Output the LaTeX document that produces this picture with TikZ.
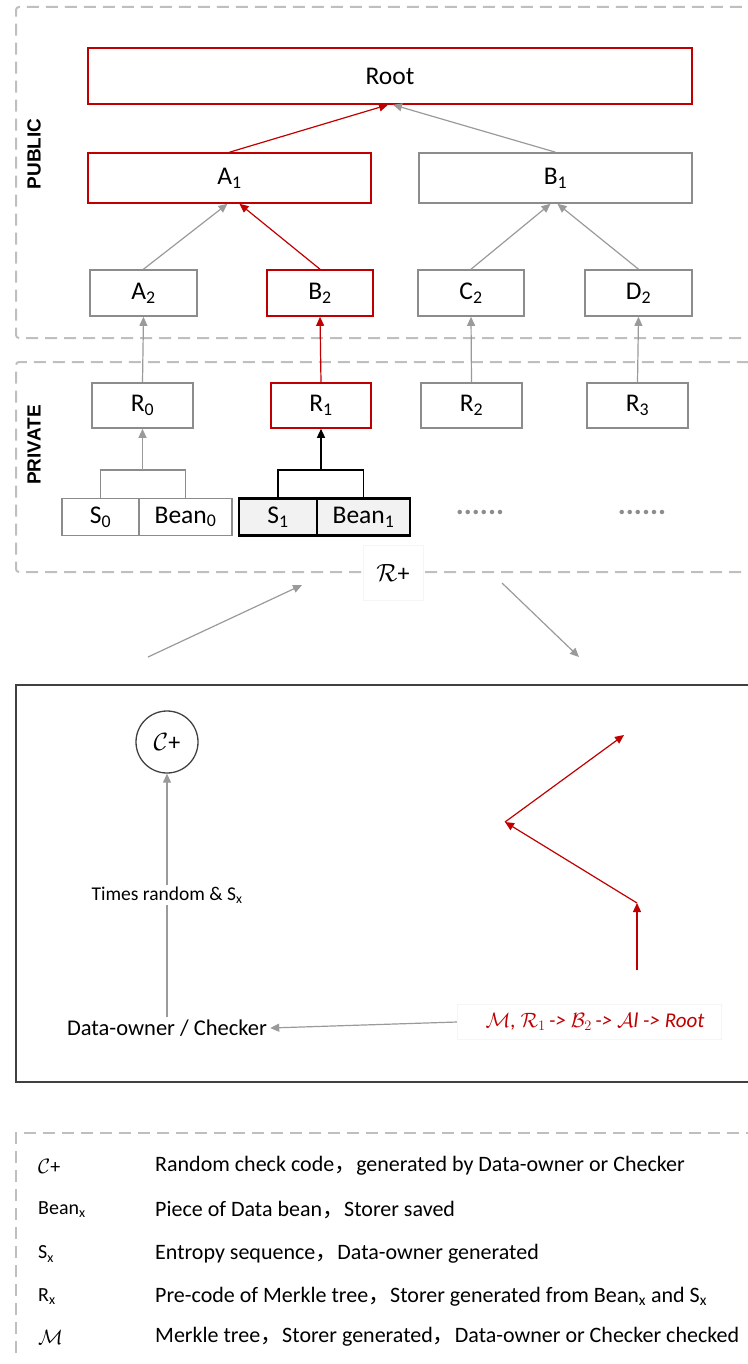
\documentclass[tikz,border=0pt]{standalone}
\usepackage{fontspec}
\setmainfont{Carlito}
\newfontfamily\lab{Liberation Sans}
\newfontfamily\cjk{Noto Sans CJK SC}
\usetikzlibrary{arrows.meta,calc}
\definecolor{tred}{HTML}{C00000}
\definecolor{tgray}{HTML}{8C8C8C}
\definecolor{agray}{HTML}{9A9A9A}
\definecolor{dgray}{HTML}{BFBFBF}
\definecolor{fgray}{HTML}{F2F2F2}
\definecolor{kgray}{HTML}{404040}
\begin{document}
\begin{tikzpicture}[x=1pt,y=-1pt,
  box/.style={draw=tgray,line width=1.6pt,inner sep=0pt,font=\fontsize{25.5}{28}\selectfont},
  redbox/.style={draw=tred},
  blkbox/.style={draw=black,line width=2.2pt,fill=fgray},
  garr/.style={draw=agray,line width=1.2pt,-{Triangle[length=9pt,width=8pt]}},
  rarr/.style={draw=tred,line width=1.2pt,-{Triangle[length=9pt,width=8pt]}},
  karr/.style={draw=black,line width=1.4pt,-{Triangle[length=9pt,width=8pt]}},
  frame/.style={draw=dgray,line width=2pt,dash pattern=on 12pt off 7pt},
  sidelab/.style={rotate=90,font=\lab\bfseries\fontsize{19}{22}\selectfont},
  legsym/.style={anchor=west,inner sep=0pt,font=\fontsize{20}{23}\selectfont},
  legtxt/.style={anchor=west,inner sep=0pt,font=\fontsize{22}{25}\selectfont},
  dots/.style={text=tgray,font=\bfseries\fontsize{30}{32}\selectfont}
]
\useasboundingbox (0,0) rectangle (747,1364);

% frames
\draw[frame,rounded corners=3pt] (760,338) -- (16,338) -- (16,7) -- (760,7);
\draw[frame,rounded corners=3pt] (760,572) -- (16,572) -- (16,362) -- (760,362);
\draw[kgray,line width=1.5pt] (760,1082) -- (16,1082) -- (16,685) -- (760,685);
\draw[frame] (16,1353) -- (16,1133) -- (760,1133);

\node[sidelab] (pub) at (34,154) {PUBLIC};
\node[sidelab] (priv) at (34,445) {PRIVATE};

% tree
\node[box,redbox,minimum width=604,minimum height=56] (root) at (390,76) {Root};
\node[box,redbox,minimum width=283,minimum height=50] (a1) at (229.5,178) {A\textsubscript{1}};
\node[box,minimum width=273,minimum height=50] (b1) at (555.5,178) {B\textsubscript{1}};
\node[box,minimum width=107,minimum height=46] (a2) at (143.5,293) {A\textsubscript{2}};
\node[box,redbox,minimum width=106,minimum height=46] (b2) at (320,293) {B\textsubscript{2}};
\node[box,minimum width=106,minimum height=46] (c2) at (471,293) {C\textsubscript{2}};
\node[box,minimum width=107,minimum height=46] (d2) at (638.5,293) {D\textsubscript{2}};
\node[box,minimum width=101,minimum height=45] (r0) at (142.5,405.5) {R\textsubscript{0}};
\node[box,redbox,minimum width=100,minimum height=45] (r1) at (321,405.5) {R\textsubscript{1}};
\node[box,minimum width=101,minimum height=45] (r2) at (471.5,405.5) {R\textsubscript{2}};
\node[box,minimum width=101,minimum height=45] (r3) at (637.5,405.5) {R\textsubscript{3}};

\node[box,minimum width=77,minimum height=37] (s0) at (100.5,517) {S\textsubscript{0}};
\node[box,minimum width=93,minimum height=37] (bean0) at (185.5,517) {Bean\textsubscript{0}};
\node[box,blkbox,minimum width=78,minimum height=37] (s1) at (278,517) {S\textsubscript{1}};
\node[box,blkbox,minimum width=93,minimum height=37] (bean1) at (363.5,517) {Bean\textsubscript{1}};
\node[dots] (dots1) at (480,512) {......};
\node[dots] (dots2) at (642,512) {......};

% tree connectors
\draw[rarr] (a1.north) -- ($(root.south)+(-2,0)$);
\draw[garr] (b1.north) -- ($(root.south)+(3,0)$);
\draw[garr] (a2.north) -- ($(a1.south)+(-2,0)$);
\draw[rarr] (b2.north) -- ($(a1.south)+(10,0)$);
\draw[garr] (c2.north) -- ($(b1.south)+(-5,0)$);
\draw[garr] (d2.north) -- ($(b1.south)+(2,0)$);
\draw[garr] (r0.north) -- (a2.south);
\draw[rarr] (r1.north) -- (b2.south);
\draw[garr] (r2.north) -- (c2.south);
\draw[garr] (r3.north) -- (d2.south);

% brackets
\coordinate (k0) at (142.5,470);
\coordinate (k1) at (321,470);
\draw[tgray,line width=1.2pt] (s0.north) -- (s0.north |- k0) -- (bean0.north |- k0) -- (bean0.north);
\draw[garr] (k0) -- (r0.south);
\draw[black,line width=1.4pt] (s1.north) -- (s1.north |- k1) -- (bean1.north |- k1) -- (bean1.north);
\draw[karr] (k1) -- (r1.south);

% R+ label
\node[fill=white,draw=black!4,minimum width=60,minimum height=55,inner sep=0pt,font=\fontsize{24}{26}\selectfont] (rplus) at (393,573) {$\mathcal{R}$+};
\coordinate (g1s) at (148,657);
\coordinate (g1e) at (302,585);
\coordinate (g2s) at (502,583);
\coordinate (g2e) at (579,657);
\draw[garr] (g1s) -- (g1e);
\draw[garr] (g2s) -- (g2e);

% check box content
\node[circle,draw=kgray,line width=1.3pt,minimum size=62,inner sep=0pt,font=\fontsize{24}{26}\selectfont] (cplus) at (167,742) {$\mathcal{C}$+};
\node[inner sep=3pt,font=\fontsize{22.5}{25}\selectfont] (owner) at (167,1028) {Data-owner / Checker};
\draw[garr] (owner.north) -- node[fill=white,inner sep=2pt,font=\fontsize{19.5}{22}\selectfont] (times) {Times random \& S\textsubscript{x}} (cplus.south);
\node[fill=white,draw=black!4,minimum width=264,minimum height=35,inner sep=0pt,text=tred,font=\itshape\fontsize{21}{24}\selectfont] (path) at (589,1022) {\hspace{12pt}$\mathcal{M}$, $\mathcal{R}_{1}$\,-> $\mathcal{B}_{2}$\,-> $\mathcal{A}$l -> Root};
\draw[garr] (path.west) -- (owner.east);

\coordinate (p0) at (637,970);
\coordinate (p1) at (637,903);
\coordinate (p2) at (505,822);
\coordinate (p3) at (624,735);
\draw[rarr] (p0) -- (p1);
\draw[rarr] (p1) -- (p2);
\draw[rarr] (p2) -- (p3);

% legend
\node[legsym] (l1s) at (38,1166) {$\mathcal{C}$+};
\node[legtxt] (l1t) at (155,1166) {Random check code{\cjk ，}generated by Data-owner or Checker};
\node[legsym] (l2s) at (38,1210) {Bean\textsubscript{x}};
\node[legtxt] (l2t) at (155,1210) {Piece of Data bean{\cjk ，}Storer saved};
\node[legsym] (l3s) at (38,1254) {S\textsubscript{x}};
\node[legtxt] (l3t) at (155,1254) {Entropy sequence{\cjk ，}Data-owner generated};
\node[legsym] (l4s) at (38,1297) {R\textsubscript{x}};
\node[legtxt] (l4t) at (155,1297) {Pre-code of Merkle tree{\cjk ，}Storer generated from Bean\textsubscript{x} and S\textsubscript{x}};
\node[legsym] (l5s) at (38,1337) {$\mathcal{M}$};
\node[legtxt] (l5t) at (155,1337) {Merkle tree{\cjk ，}Storer generated{\cjk ，}Data-owner or Checker checked};
\end{tikzpicture}
\end{document}
